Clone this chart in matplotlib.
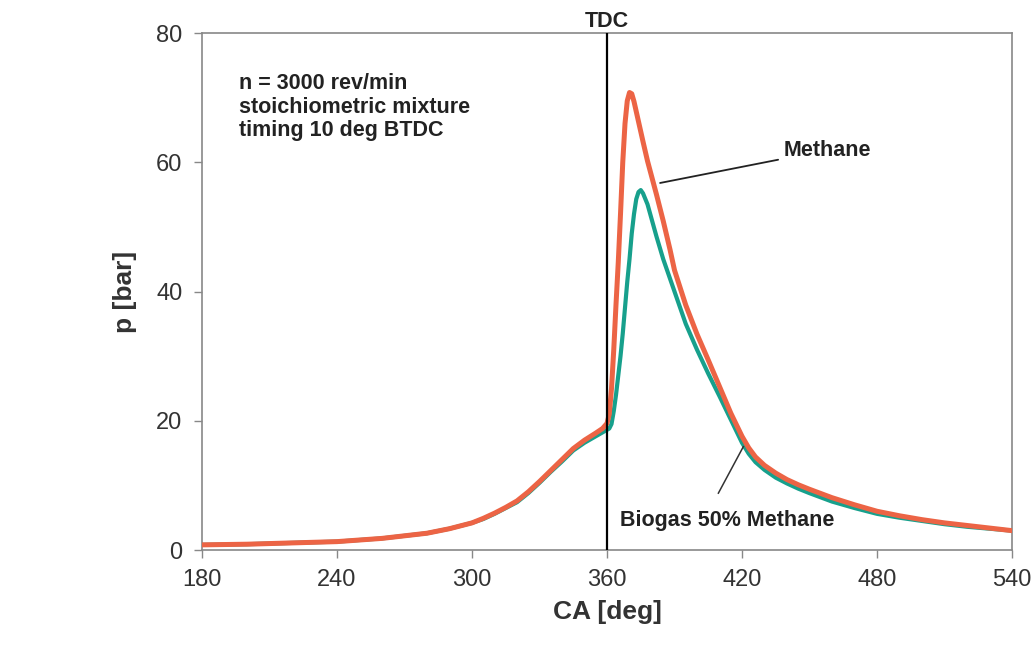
import numpy as np
import matplotlib
matplotlib.use("Agg")
import matplotlib.pyplot as plt

plt.rcParams['font.family'] = ['Liberation Sans', 'DejaVu Sans']

# crank angle [deg] and cylinder pressure [bar]
ca_methane = [180, 200, 220, 240, 260, 280, 290, 300, 305, 310, 315, 320, 325, 330, 335, 340,
              345, 350, 355, 358, 360, 361, 362, 363, 364, 365, 366, 367, 368, 369, 370, 371,
              372, 374, 376, 378, 380, 382, 385, 388, 390, 395, 400, 405, 410, 415, 420, 423,
              426, 430, 435, 440, 445, 450, 460, 470, 480, 490, 500, 510, 520, 530, 540]
p_methane = [0.8, 0.9, 1.1, 1.3, 1.8, 2.6, 3.3, 4.2, 4.9, 5.7, 6.6, 7.6, 9.0, 10.6, 12.3, 14.0,
             15.7, 17.0, 18.1, 18.8, 19.6, 21.0, 25.0, 31.0, 38.0, 44.5, 52.0, 60.0, 66.0, 69.5, 70.8, 70.6,
             69.4, 66.3, 63.2, 60.2, 57.6, 55.0, 50.9, 46.5, 43.3, 37.9, 33.4, 29.4, 25.3, 21.2, 17.6, 15.8,
             14.4, 13.1, 11.9, 10.9, 10.1, 9.4, 8.1, 7.0, 6.0, 5.3, 4.7, 4.2, 3.8, 3.4, 3.0]

ca_biogas = [180, 200, 220, 240, 260, 280, 290, 300, 305, 310, 315, 320, 325, 330, 335, 340,
             345, 350, 355, 358, 360, 361, 362, 363, 364, 365, 366, 367, 368, 369, 370, 371,
             372, 373, 374, 375, 376, 378, 380, 382, 385, 388, 390, 395, 400, 405, 410, 415,
             420, 423, 426, 430, 435, 440, 445, 450, 460, 470, 480, 490, 500, 510, 520, 530, 540]
p_biogas = [0.8, 0.9, 1.1, 1.3, 1.8, 2.6, 3.3, 4.2, 4.8, 5.6, 6.5, 7.4, 8.8, 10.4, 12.1, 13.7,
            15.4, 16.6, 17.6, 18.2, 18.6, 18.8, 19.5, 21.5, 24.0, 27.0, 30.0, 33.5, 37.5, 41.5, 45.0, 49.0,
            52.0, 54.3, 55.4, 55.7, 55.2, 53.5, 51.0, 48.5, 45.0, 42.0, 40.0, 35.0, 31.0, 27.3, 23.8, 20.2,
            16.6, 14.9, 13.6, 12.4, 11.2, 10.3, 9.5, 8.8, 7.5, 6.5, 5.6, 5.0, 4.5, 4.0, 3.6, 3.3, 3.0]

x_ticks = [180, 240, 300, 360, 420, 480, 540]
y_ticks = [0, 20, 40, 60, 80]
info_lines = ["n = 3000 rev/min", "stoichiometric mixture", "timing 10 deg BTDC"]

fig = plt.figure(figsize=(10.34, 6.48), dpi=100)
ax = fig.add_axes([0.1954, 0.1512, 0.7833, 0.7978])

ax.plot(ca_biogas, p_biogas, color='#17a08c', lw=3.0, zorder=3,
        solid_joinstyle='round', solid_capstyle='round')
ax.plot(ca_methane, p_methane, color='#ec6445', lw=3.6, zorder=4,
        solid_joinstyle='round', solid_capstyle='round')
ax.axvline(360, color='black', lw=1.6, zorder=5)

ax.set_xlim(180, 540)
ax.set_ylim(0, 80)
ax.set_xticks(x_ticks)
ax.set_yticks(y_ticks)
ax.tick_params(labelsize=17, colors='#333333', length=6, width=1, direction='out', pad=8)
ax.tick_params(axis='both', color='#888888')
for s in ax.spines.values():
    s.set_color('#888888')
    s.set_linewidth(1.2)

ax.set_xlabel('CA [deg]', fontsize=19, fontweight='bold', color='#333333', labelpad=6)
ax.set_ylabel('p [bar]', fontsize=19, fontweight='bold', color='#333333', labelpad=14)

ax.text(360, 81.0, 'TDC', ha='center', va='baseline', fontsize=15.5, fontweight='bold', color='#222222')
ax.text(196.5, 73.8, "\n".join(info_lines), ha='left', va='top', fontsize=15.5,
        fontweight='bold', color='#222222', linespacing=1.15)

ax.annotate('Methane', xy=(383.6, 56.8), xytext=(438.5, 61.9), fontsize=15.5, fontweight='bold',
            color='#222222', va='center', ha='left',
            arrowprops=dict(arrowstyle='-', color='#222222', lw=1.3, shrinkA=2, shrinkB=0))
ax.annotate('Biogas 50% Methane', xy=(420.6, 16.0), xytext=(365.8, 4.6), fontsize=15.5,
            fontweight='bold', color='#222222', va='center', ha='left')
ax.plot([409.5, 420.6], [8.8, 16.0], color='#333333', lw=1.1, zorder=6)

fig.savefig('out.png', dpi=100)
